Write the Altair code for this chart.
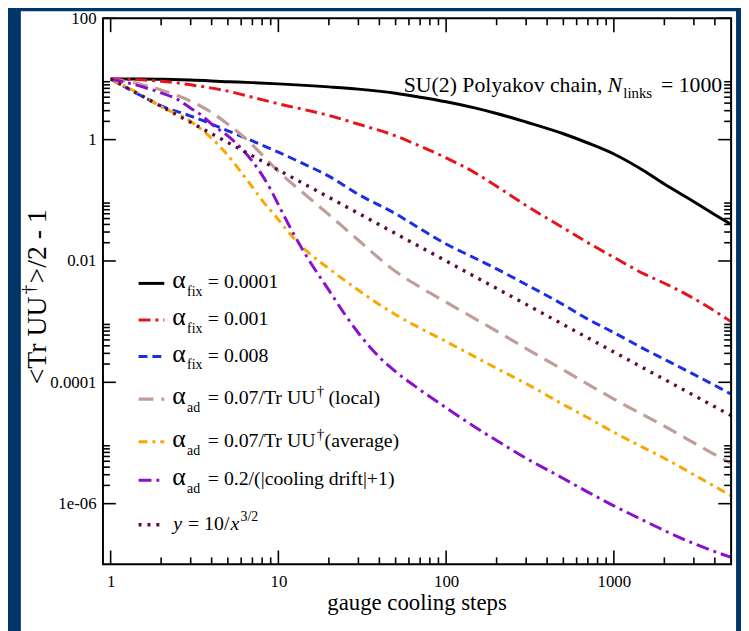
import altair as alt
import pandas as pd

# ---------------- data ----------------
x_black = [1, 2, 3, 5, 7, 10, 20, 30, 50, 70, 100, 150, 200, 300, 500, 700, 1000, 1500, 2000, 3000, 4000, 5000]
y_black = [10, 9.9, 9.6, 9.0, 8.7, 8.3, 7.4, 6.8, 5.8, 5.0, 4.2, 3.3, 2.7, 1.95, 1.25, 0.88, 0.58, 0.31, 0.185, 0.095, 0.058, 0.04]

x_red = [1, 2, 3, 5, 7, 10, 20, 30, 50, 70, 100, 150, 200, 300, 500, 700, 1000, 1500, 2000, 3000, 5000]
y_red = [10, 9.2, 8.0, 6.3, 5.0, 3.9, 2.5, 1.8, 1.15, 0.78, 0.5, 0.28, 0.17, 0.082, 0.035, 0.02, 0.0115, 0.0062, 0.0043, 0.0024, 0.001]

x_blue = [1, 1.5, 2, 3, 5, 7, 10, 15, 20, 30, 50, 70, 100, 150, 200, 300, 500, 700, 1000, 1500, 2000, 3000, 5000]
y_blue = [10, 5.4, 3.6, 2.45, 1.4, 0.95, 0.62, 0.37, 0.25, 0.125, 0.06, 0.034, 0.019, 0.011, 0.0074, 0.0041, 0.0019,
          0.0011, 0.00066, 0.00036, 0.00024, 0.000135, 0.000064]

x_tan = [1, 1.5, 2, 3, 4, 5, 6, 7, 8, 10, 15, 20, 30, 50, 70, 100, 150, 200, 300, 500, 700, 1000, 1500, 2000, 3000, 5000]
y_tan = [10, 8.2, 6.6, 4.3, 2.8, 1.8, 1.2, 0.82, 0.56, 0.30, 0.114, 0.058, 0.022, 0.0067, 0.0037, 0.0021, 0.0011,
         0.0007, 0.00036, 0.00016, 0.000093, 0.000053, 0.000029, 0.000019, 0.00001, 0.0000046]

x_orange = [1, 1.5, 2, 3, 4, 5, 6, 7, 8, 10, 12, 15, 20, 30, 50, 70, 100, 150, 200, 300, 500, 700, 1000, 1500, 2000, 3000, 5000]
y_orange = [10, 5.6, 3.5, 2.0, 1.05, 0.55, 0.29, 0.165, 0.1, 0.048, 0.026, 0.014, 0.0075, 0.0033, 0.0013, 0.00078,
            0.00047, 0.00026, 0.00017, 0.000095, 0.000043, 0.000026, 0.000015, 0.0000084, 0.0000056, 0.000003, 0.00000135]

x_purple = [1, 1.5, 2, 2.5, 3, 3.5, 4, 5, 6, 7, 8, 9, 10, 12, 15, 20, 25, 30, 40, 50, 70, 100, 150, 200, 300, 500,
            700, 1000, 1500, 2000, 3000, 5000]
y_purple = [10, 7.6, 5.9, 4.6, 3.3, 2.5, 1.8, 1.15, 0.72, 0.44, 0.26, 0.15, 0.085, 0.032, 0.011, 0.0033, 0.0013,
            0.00065, 0.00026, 0.00015, 0.000075, 0.000038, 0.000018, 0.000011, 0.0000056, 0.0000026, 0.00000155,
            0.00000092, 0.00000053, 0.00000036, 0.00000022, 0.00000013]

x_dot = [1, 1.5, 2, 3, 5, 7, 10, 15, 20, 30, 50, 70, 100, 150, 200, 300, 500, 700, 1000, 1500, 2000, 3000, 5000]
y_dot = [10, 5.443, 3.536, 1.925, 0.8944, 0.540, 0.3162, 0.1721, 0.1118, 0.06086, 0.02828, 0.01707, 0.01, 0.005443,
         0.003536, 0.001925, 0.0008944, 0.00054, 0.0003162, 0.0001721, 0.0001118, 0.00006086, 0.00002828]

x_tick_labels = [1, 10, 100, 1000]
y_tick_labels = [100, 1, 0.01, 0.0001, 0.000001]

# ---------------- styling ----------------
FONT = "Liberation Serif"
W, H = 635, 552
BG = "#013668"

series = [
    ("black", x_black, y_black, "#000000", None, 3),
    ("red", x_red, y_red, "#e8141c", [12, 5, 3, 5], 3),
    ("blue", x_blue, y_blue, "#1a2ee6", [9, 5], 3),
    ("tan", x_tan, y_tan, "#bf9e99", [15, 8], 3.2),
    ("orange", x_orange, y_orange, "#f8a800", [9, 5, 3, 5], 3),
    ("purple", x_purple, y_purple, "#8c0fd0", [13, 5, 3, 5], 3),
    ("dot", x_dot, y_dot, "#5e0b3e", [3, 6], 3.4),
]

xscale = alt.Scale(type="log", domain=[0.9, 5000], nice=False)
yscale = alt.Scale(type="log", domain=[1e-7, 100], nice=False)
xaxis = alt.Axis(values=x_tick_labels, ticks=False, tickSize=0, domain=False, grid=False, title=None,
                 labelFont=FONT, labelFontSize=17, labelColor="black", labelPadding=22,
                 labelBaseline="alphabetic", labelFlush=False, labelOverlap=False, zindex=1,
                 labelExpr="format(datum.value, 'd')")
yaxis = alt.Axis(values=y_tick_labels, ticks=False, tickSize=0, domain=False, grid=False, title=None,
                 labelFont=FONT, labelFontSize=17, labelColor="black", labelPadding=7,
                 labelFlush=False, labelOverlap=False, zindex=1,
                 labelExpr="datum.value < 0.00001 ? '1e-06' : format(datum.value, '~g')")
X = alt.X("x:Q", scale=xscale, axis=xaxis)
Y = alt.Y("y:Q", scale=yscale, axis=yaxis)

one = pd.DataFrame({"a": [0]})

layers = []
# white panel behind everything
layers.append(alt.Chart(one).mark_rect(color="white").encode(
    x=alt.value(-83), x2=alt.value(640), y=alt.value(-7), y2=alt.value(620)))

for name, xs, ys, col, dash, sw in series:
    d = pd.DataFrame({"x": xs, "y": ys})
    kw = dict(color=col, strokeWidth=sw, clip=True, interpolate="monotone")
    if dash:
        kw["strokeDash"] = dash
    layers.append(alt.Chart(d).mark_line(**kw).encode(x=X, y=Y))

# tick marks (inward, on all four sides)
x_major = x_tick_labels
x_minor = [k * 10 ** m for m in range(0, 4) for k in range(2, 10) if k * 10 ** m < 5000]
y_major = y_tick_labels
y_minor = [k * 10.0 ** m for m in (-6, -4, -2, 0) for k in range(2, 10)]


def xticks(vals, ln):
    d = pd.DataFrame({"x": vals})
    b = alt.Chart(d).mark_rule(color="black", strokeWidth=1.6)
    return [b.encode(x=X, y=alt.value(H), y2=alt.value(H - ln)),
            b.encode(x=X, y=alt.value(0), y2=alt.value(ln))]


def yticks(vals, ln):
    d = pd.DataFrame({"y": vals})
    b = alt.Chart(d).mark_rule(color="black", strokeWidth=1.6)
    return [b.encode(y=Y, x=alt.value(0), x2=alt.value(ln)),
            b.encode(y=Y, x=alt.value(W), x2=alt.value(W - ln))]


layers += xticks(x_major, 14) + xticks(x_minor, 7) + yticks(y_major, 13) + yticks(y_minor, 7)

# frame
layers.append(alt.Chart(one).mark_rect(filled=False, color="black", strokeWidth=2).encode(
    x=alt.value(0), x2=alt.value(W), y=alt.value(0), y2=alt.value(H)))


def txt(s, x, y, size=20, style="normal", align="left", baseline="alphabetic", angle=0):
    return alt.Chart(one).mark_text(text=s, font=FONT, fontSize=size, fontStyle=style, align=align,
                                    baseline=baseline, angle=angle, color="black").encode(
        x=alt.value(x), y=alt.value(y))


# legend
leg_y = [268, 305, 342, 385, 428, 467, 512]
for (name, xs, ys, col, dash, sw), ly in zip(series, leg_y):
    kw = dict(color=col, strokeWidth=sw)
    if dash:
        kw["strokeDash"] = dash
    layers.append(alt.Chart(one).mark_rule(**kw).encode(x=alt.value(36), x2=alt.value(62), y=alt.value(ly)))

legend_rows = [
    ("fix", "= 0.0001", None, None),
    ("fix", "= 0.001", None, None),
    ("fix", "= 0.008", None, None),
    ("ad", "= 0.07/Tr UU", "†", "(local)"),
    ("ad", "= 0.07/Tr UU", "†", "(average)"),
    ("ad", "= 0.2/(|cooling drift|+1)", None, None),
]
for (sub, main, sup, rest), ly in zip(legend_rows, leg_y):
    layers.append(txt("α", 70, ly + 5, size=26))
    layers.append(txt(sub, 85, ly + 13, size=14))
    layers.append(txt(main, 106, ly + 5, size=20))
    if sup:
        layers.append(txt(sup, 216, ly - 3, size=15))
        layers.append(txt(rest, 228 if rest == "(local)" else 224, ly + 5, size=20))
ly = leg_y[6]
layers.append(txt("y", 71, ly + 5, size=20, style="italic"))
layers.append(txt("= 10/", 86, ly + 5, size=20))
layers.append(txt("x", 129, ly + 5, size=20, style="italic"))
layers.append(txt("3/2", 139, ly - 4, size=14))

# annotation
layers.append(txt("SU(2) Polyakov chain,", 505, 75, size=22, align="right"))
layers.append(txt("N", 510, 75, size=22, style="italic"))
layers.append(txt("links", 526, 81, size=15))
layers.append(txt("= 1000", 626, 75, size=22, align="right"))

# axis titles
layers.append(txt("gauge cooling steps", W / 2, 598, size=23, align="center"))
yt = 370
layers.append(txt("<Tr UU", -66, yt, size=28, angle=270, baseline="middle"))
layers.append(txt("†", -75, yt - 91, size=19, angle=270, baseline="middle"))
layers.append(txt(">/2 - 1", -66, yt - 102, size=28, angle=270, baseline="middle"))

chart = alt.layer(*layers).properties(
    width=W, height=H,
    padding={"left": 96, "top": 7, "right": 10, "bottom": 64},
    autosize=alt.AutoSizeParams(type="none"),
).configure(background=BG).configure_view(stroke=None).configure_axis(
    labelFont=FONT, labelFontSize=17, labelColor="black")

chart.save("out.html", embed_options={"renderer": "svg", "actions": False})
